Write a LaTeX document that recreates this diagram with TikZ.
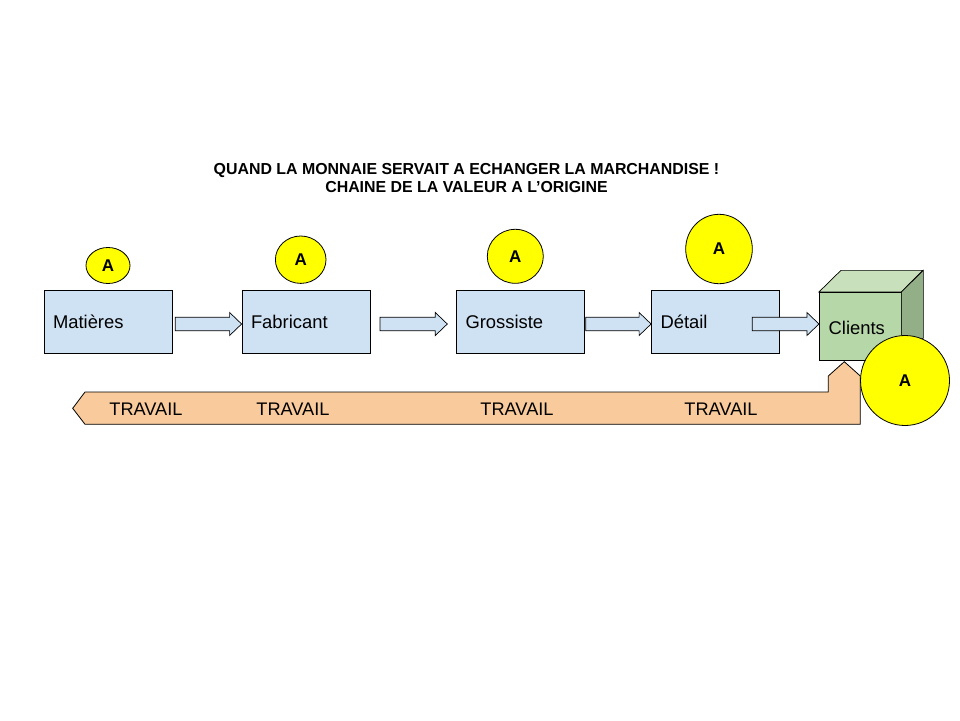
\documentclass[tikz,border=0pt]{standalone}
\usepackage{fontspec}
\setmainfont{Liberation Sans}
\usetikzlibrary{shapes.geometric,calc}
\definecolor{boxblue}{HTML}{CFE2F3}
\definecolor{cubefront}{HTML}{B6D7A8}
\definecolor{cubetop}{HTML}{C8E0BC}
\definecolor{cubeside}{HTML}{93AF87}
\definecolor{band}{HTML}{F9CB9C}
\definecolor{coin}{HTML}{FFFF00}
\newcommand\blockarr[2]{%
  \draw[barrow] let \p1=(#1), \p2=(#2) in
    (\x1,\y1+6.7pt) -- (\x2-12pt,\y1+6.7pt) -- (\x2-12pt,\y1+11.5pt) -- (\x2,\y1)
    -- (\x2-12pt,\y1-11.5pt) -- (\x2-12pt,\y1-6.7pt) -- (\x1,\y1-6.7pt) -- cycle;}
\begin{document}
\begin{tikzpicture}[x=1pt,y=-1pt,
  line width=0.8pt,
  stagebox/.style={draw=black,fill=boxblue,rectangle,minimum height=63pt,
     text width=110pt,inner xsep=9pt,inner ysep=0pt,align=left,
     font=\fontsize{18.4}{21}\selectfont},
  barrow/.style={draw=black,fill=boxblue,line width=0.7pt},
  coinstyle/.style={draw=black,fill=coin,ellipse,inner sep=0pt,
     font=\fontsize{17}{19}\selectfont\bfseries},
  travail/.style={anchor=west,inner sep=0pt,font=\fontsize{18.2}{21}\selectfont},
  cubeface/.style={draw=black,line width=0.7pt}]
\useasboundingbox (0,0) rectangle (960,720);
\fill[white] (0,0) rectangle (960,720);

% title
\node[align=center,font=\fontsize{15.9}{18}\selectfont\bfseries] (title) at (466.5,178)
  {QUAND LA MONNAIE SERVAIT A ECHANGER LA MARCHANDISE !\\CHAINE DE LA VALEUR A L’ORIGINE};

% stage boxes
\node[stagebox] (mat) at (108,321.5) {\raisebox{-1pt}{Matières}};
\node[stagebox] (fab) at (306,321.5) {\raisebox{-1pt}{Fabricant}};
\node[stagebox] (gro) at (520.5,321.5) {\raisebox{-1pt}{Grossiste}};
\node[stagebox] (det) at (715.5,321.5) {Détail};

% travail band
\coordinate (bandtip) at (72.7,408.3);
\coordinate (notch) at (844.3,361.7);
\draw[fill=band,line width=0.8pt] (bandtip) -- (85,392) -- (828.3,392) -- (828.3,376)
  -- (notch) -- (860.3,376) -- (860.3,424.3) -- (85,424.3) -- cycle;
\node[travail] (t1) at (109,409) {TRAVAIL};
\node[travail] (t2) at (256,409) {TRAVAIL};
\node[travail] (t3) at (480,409) {TRAVAIL};
\node[travail] (t4) at (684,409) {TRAVAIL};

% cube
\node[cubeface,fill=cubefront,rectangle,minimum width=81.7pt,minimum height=67.7pt,
  inner sep=0pt] (cli) at (860.15,326.15) {};
\draw[cubeface,fill=cubetop] (cli.north west) -- ++(22,-21.6) -- ++(81.7,0) -- (cli.north east) -- cycle;
\draw[cubeface,fill=cubeside] (cli.north east) -- ++(22,-21.6) -- ++(0,67.7) -- (cli.south east) -- cycle;
\node[anchor=west,inner sep=0pt,font=\fontsize{18.4}{21}\selectfont] (clitext) at (828.3,327.5) {Clients};

% block arrows
\coordinate (a1s) at (175.3,324);
\coordinate (a2s) at (380,324);
\coordinate (a3s) at (585.7,324);
\coordinate (a4s) at (752.3,324);
\coordinate (a2e) at (447.3,324);
\blockarr{a1s}{fab.west}
\blockarr{a2s}{a2e}
\blockarr{a3s}{det.west}
\blockarr{a4s}{cli.west}

% coins
\node[coinstyle,minimum width=44pt,minimum height=36pt] (c1) at (108,265.5) {A};
\node[coinstyle,minimum width=50.6pt,minimum height=47.4pt] (c2) at (300.7,259.7) {A};
\node[coinstyle,minimum width=56pt,minimum height=54pt] (c3) at (515.3,256.3) {A};
\node[coinstyle,minimum width=66.6pt,minimum height=69.4pt] (c4) at (719,249) {A};
\node[coinstyle,minimum width=89pt,minimum height=90pt] (c5) at (905,380.5) {A};
\end{tikzpicture}
\end{document}
